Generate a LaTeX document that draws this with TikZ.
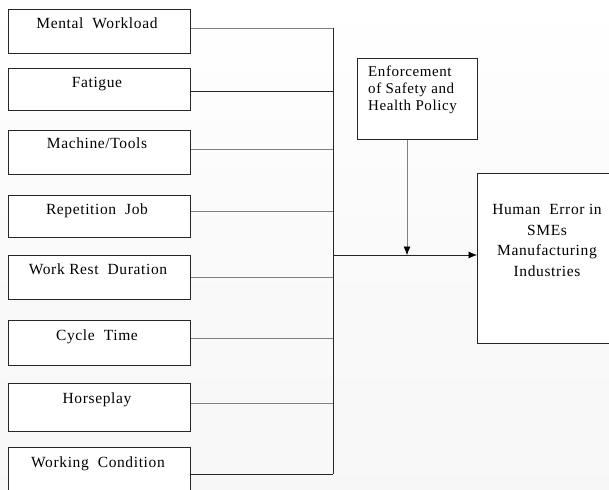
\documentclass[tikz,border=0pt]{standalone}
\usepackage{fontspec}
\setmainfont{Liberation Serif}[LetterSpace=4]
\usetikzlibrary{arrows.meta}
\begin{document}
\begin{tikzpicture}[x=1pt,y=-1pt,
  factor/.style={draw=black!85,line width=0.8pt,fill=white,anchor=north west,
    minimum width=182pt,inner sep=0pt},
  ftext/.style={anchor=base,inner sep=0pt,font=\fontsize{15.5}{18}\selectfont},
  link/.style={draw=black!50,line width=0.6pt},
  darklink/.style={draw=black!85,line width=0.8pt},
  arr/.style={-{Latex[length=8.5pt,width=7pt,fill=black,color=black]}}
]
\useasboundingbox[top color=white,bottom color=black!3,middle color=black!2] (0,0) rectangle (609,489);
% factor boxes
\node[factor,minimum height=44pt] (b1) at (8,9) {};
\node[factor,minimum height=42pt] (b2) at (8,68) {};
\node[factor,minimum height=44pt] (b3) at (8,130) {};
\node[factor,minimum height=42pt] (b4) at (8,195) {};
\node[factor,minimum height=44pt] (b5) at (8,255) {};
\node[factor,minimum height=45pt] (b6) at (8,320) {};
\node[factor,minimum height=48pt] (b7) at (8,383) {};
\node[factor,minimum height=52pt] (b8) at (8,447) {};
\node[ftext] (t1) at (97,29) {Mental\ \ Workload};
\node[ftext] (t2) at (97,88) {Fatigue};
\node[ftext] (t3) at (97,148) {Machine/Tools};
\node[ftext] (t4) at (97,214) {Repetition\ \ Job};
\node[ftext] (t5) at (98,274) {Work Rest\ \ Duration};
\node[ftext] (t6) at (97,340) {Cycle\ \ Time};
\node[ftext] (t7) at (97,403) {Horseplay};
\node[ftext] (t8) at (98,467) {Working\ \ Condition};
% bus coordinates
\coordinate (j1) at (333,28);
\coordinate (j2) at (333,91);
\coordinate (j3) at (333,149);
\coordinate (j4) at (333,211);
\coordinate (j5) at (333,277);
\coordinate (j6) at (333,338);
\coordinate (j7) at (333,403);
\coordinate (j8) at (333,474);
\coordinate (jm) at (333,255);
\draw[link] (b1.east |- j1) -- (j1);
\draw[darklink] (b2.east |- j2) -- (j2);
\draw[link] (b3.east |- j3) -- (j3);
\draw[link] (b4.east |- j4) -- (j4);
\draw[link] (b5.east |- j5) -- (j5);
\draw[link] (b6.east |- j6) -- (j6);
\draw[link] (b7.east |- j7) -- (j7);
\draw[darklink] (b8.east |- j8) -- (j8);
\draw[darklink] (j1) -- (j8);
% enforcement box
\node[draw=black!85,line width=0.8pt,fill=white,anchor=north west,minimum width=120pt,minimum height=81pt,inner sep=0pt] (enf) at (357,58) {};
\node[anchor=north west,inner sep=0pt,align=left,font=\fontsize{15}{17}\selectfont] (enft) at (368,65.5) {Enforcement\\of Safety and\\Health Policy};
% human error box
\node[draw=black!85,line width=0.8pt,fill=white,anchor=north west,minimum width=140pt,minimum height=170pt,inner sep=0pt] (he) at (477,173) {};
\node[anchor=north,inner sep=0pt,align=center,font=\fontsize{15.5}{20.5}\selectfont] (het) at (547,204.5) {Human\ \ Error in\\SMEs\\Manufacturing\\Industries};
% arrows
\coordinate (meet) at (407,255);
\draw[darklink,arr] (jm) -- (he.west |- jm);
\draw[link,arr] (enf.south -| meet) -- (meet);
\end{tikzpicture}
\end{document}
